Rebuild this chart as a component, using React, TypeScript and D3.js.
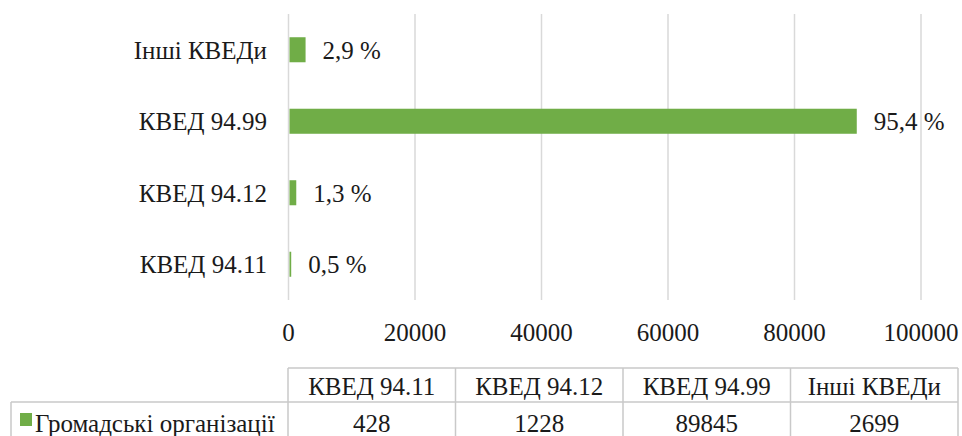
import React, { useEffect, useRef } from 'react';
import * as d3 from 'd3';

// categories bottom-to-top as in the table order
const categories = ['КВЕД 94.11', 'КВЕД 94.12', 'КВЕД 94.99', 'Інші КВЕДи'];
const values = [428, 1228, 89845, 2699];
const percentLabels = ['0,5 %', '1,3 %', '95,4 %', '2,9 %'];
const xTicks = [0, 20000, 40000, 60000, 80000, 100000];
const seriesName = 'Громадські організації';

const App = () => {
  const svgRef = useRef<SVGSVGElement>(null);

  useEffect(() => {
    const width = 962;
    const height = 436;
    const plotLeft = 288.5;
    const plotRight = 921;
    const plotTop = 14;
    const plotBottom = 300;
    const green = '#70ad47';
    const grid = '#d9d9d9';
    const textColor = '#1a1a1a';
    const font = "'Times New Roman', Tinos, 'Liberation Serif', 'DejaVu Serif', 'Noto Serif', serif";
    const fontSize = '25px';

    const svg = d3.select(svgRef.current)
      .attr('width', width)
      .attr('height', height)
      .attr('viewBox', [0, 0, width, height].join(' '));
    svg.selectAll('*').remove();

    const label = (sel: d3.Selection<any, any, any, any>) => sel
      .attr('fill', textColor)
      .style('font-family', font)
      .style('font-size', fontSize);

    const x = d3.scaleLinear().domain([0, 100000]).range([plotLeft, plotRight]);
    // top category is the last one
    const y = d3.scaleBand<string>()
      .domain([...categories].reverse())
      .range([plotTop, plotBottom])
      .paddingInner(0.65)
      .paddingOuter(0.325);

    // vertical grid lines
    svg.append('g')
      .selectAll('line')
      .data(xTicks)
      .join('line')
      .attr('x1', d => x(d))
      .attr('x2', d => x(d))
      .attr('y1', plotTop)
      .attr('y2', plotBottom)
      .attr('stroke', grid)
      .attr('stroke-width', 1.5);

    // tick labels
    svg.append('g')
      .selectAll('text')
      .data(xTicks)
      .join('text')
      .attr('x', d => x(d))
      .attr('y', 341)
      .attr('text-anchor', 'middle')
      .call(label)
      .text(d => String(d));

    // category labels
    svg.append('g')
      .selectAll('text')
      .data(categories)
      .join('text')
      .attr('x', 267)
      .attr('y', d => (y(d) ?? 0) + y.bandwidth() / 2)
      .attr('dy', '0.35em')
      .attr('text-anchor', 'end')
      .call(label)
      .text(d => d);

    // bars
    svg.append('g')
      .selectAll('rect')
      .data(values)
      .join('rect')
      .attr('x', x(0) + 1)
      .attr('y', (d, i) => y(categories[i]) ?? 0)
      .attr('width', d => Math.max(1, x(d) - x(0) - 1))
      .attr('height', y.bandwidth())
      .attr('fill', green);

    // percent labels
    svg.append('g')
      .selectAll('text')
      .data(values)
      .join('text')
      .attr('x', d => x(d) + 17)
      .attr('y', (d, i) => (y(categories[i]) ?? 0) + y.bandwidth() / 2)
      .attr('dy', '0.35em')
      .call(label)
      .text((d, i) => percentLabels[i]);

    // data table
    const tableLeft = 288;
    const tableRight = 958;
    const rowTop = 368;
    const rowMid = 402;
    const rowBottom = 437;
    const legendLeft = 11;
    const col = d3.scaleBand<string>().domain(categories).range([tableLeft, tableRight]);
    const table = svg.append('g')
      .attr('fill', 'none')
      .attr('stroke', '#c9c9c9')
      .attr('stroke-width', 1.5);

    table.append('line').attr('x1', tableLeft).attr('x2', tableRight).attr('y1', rowTop).attr('y2', rowTop);
    table.append('line').attr('x1', legendLeft).attr('x2', tableRight).attr('y1', rowMid).attr('y2', rowMid);
    table.append('line').attr('x1', legendLeft).attr('x2', tableRight).attr('y1', rowBottom).attr('y2', rowBottom);
    table.append('line').attr('x1', legendLeft).attr('x2', legendLeft).attr('y1', rowMid).attr('y2', rowBottom);
    table.selectAll('line.col')
      .data([...categories.map(c => col(c) ?? 0), tableRight])
      .join('line')
      .attr('class', 'col')
      .attr('x1', d => d)
      .attr('x2', d => d)
      .attr('y1', rowTop)
      .attr('y2', rowBottom);

    svg.append('g')
      .selectAll('text')
      .data(categories)
      .join('text')
      .attr('x', d => (col(d) ?? 0) + col.bandwidth() / 2)
      .attr('y', 395)
      .attr('text-anchor', 'middle')
      .call(label)
      .text(d => d);

    svg.append('g')
      .selectAll('text')
      .data(values)
      .join('text')
      .attr('x', (d, i) => (col(categories[i]) ?? 0) + col.bandwidth() / 2)
      .attr('y', 432)
      .attr('text-anchor', 'middle')
      .call(label)
      .text(d => String(d));

    // legend key
    svg.append('rect')
      .attr('x', 20)
      .attr('y', 413)
      .attr('width', 12)
      .attr('height', 13)
      .attr('fill', green);
    svg.append('text')
      .attr('x', 35)
      .attr('y', 432)
      .call(label)
      .text(seriesName);
  }, []);

  return (
    <div style={{ position: 'absolute', left: 0, top: 0, background: '#fff' }}>
      <svg ref={svgRef} style={{ display: 'block' }} />
    </div>
  );
};

export default App;
